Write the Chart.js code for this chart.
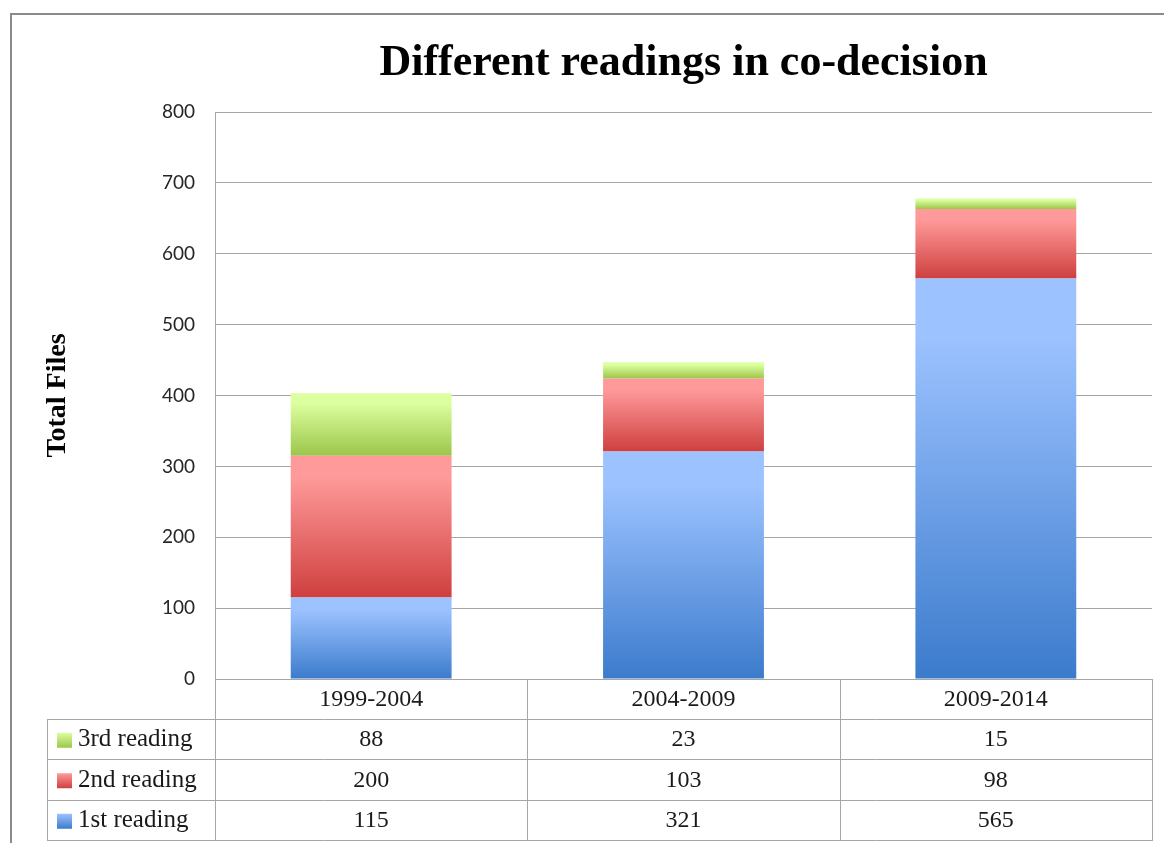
<!DOCTYPE html>
<html>
<head>
<meta charset="utf-8">
<title>Different readings in co-decision</title>
<script src="https://cdn.jsdelivr.net/npm/chart.js@4/dist/chart.umd.min.js"></script>
<style>
    html, body { margin: 0; padding: 0; background: #ffffff; }
    #box { width: 1164px; height: 843px; position: relative; }
</style>
</head>
<body>
<div id="box"><canvas id="graficoLeituras"></canvas></div>
<script>
// data
const periods = ['1999-2004', '2004-2009', '2009-2014'];
const firstReading = [115, 321, 565];
const secondReading = [200, 103, 98];
const thirdReading = [88, 23, 15];
const seriesNames = ['1st reading', '2nd reading', '3rd reading'];
const yTicks = [0, 100, 200, 300, 400, 500, 600, 700, 800];

// light top / dark bottom of each gradient
const shades = [
    ['#9cc2ff', '#3b7bcc'],
    ['#ff9a9a', '#cf3f3f'],
    ['#dcff9f', '#9cc64a']
];
const gridGrey = '#a6a6a6';
const serif = "'Liberation Serif', 'DejaVu Serif', serif";

// gradient per stacked segment, from its top to its base
function segmentFill(context) {
    const chart = context.chart;
    const s = context.datasetIndex;
    if (!chart.chartArea || context.type !== 'data') return shades[s][0];
    const y = chart.scales.y;
    const i = context.dataIndex;
    let base = 0;
    for (let k = 0; k < s; k++) base += chart.data.datasets[k].data[i];
    const top = base + chart.data.datasets[s].data[i];
    const g = chart.ctx.createLinearGradient(0, y.getPixelForValue(top), 0, y.getPixelForValue(base));
    g.addColorStop(0, shades[s][0]);
    g.addColorStop(0.15, shades[s][0]);
    g.addColorStop(1, shades[s][1]);
    return g;
}

// outer frame + data table under the plot
const tablePlugin = {
    id: 'tablePlugin',
    beforeDraw(chart) {
        const c = chart.ctx;
        c.save();
        c.fillStyle = '#ffffff';
        c.fillRect(0, 0, chart.width, chart.height);
        c.strokeStyle = '#8a8a8a';
        c.lineWidth = 2;
        c.beginPath();
        c.moveTo(11, chart.height);
        c.lineTo(11, 14);
        c.lineTo(chart.width, 14);
        c.stroke();
        c.restore();
    },
    afterDraw(chart) {
        const c = chart.ctx;
        const area = chart.chartArea;
        const xs = chart.scales.x;
        const step = xs.getPixelForValue(1) - xs.getPixelForValue(0);
        const rowH = 40.5;
        const legendLeft = 47;
        const top = area.bottom;
        const bottom = top + rowH * 4;

        c.save();
        c.strokeStyle = gridGrey;
        c.lineWidth = 1;
        c.beginPath();
        // vertical lines
        for (let i = 0; i <= periods.length; i++) {
            const x = Math.round(area.left + i * step) + 0.5;
            c.moveTo(x, top);
            c.lineTo(x, bottom);
        }
        c.moveTo(legendLeft + 0.5, top + rowH);
        c.lineTo(legendLeft + 0.5, bottom);
        // horizontal lines
        for (let r = 1; r <= 4; r++) {
            const y = Math.round(top + r * rowH) - 0.5;
            c.moveTo(legendLeft, y);
            c.lineTo(area.right + 1, y);
        }
        c.stroke();

        c.fillStyle = '#1a1a1a';
        c.font = '24px ' + serif;
        c.textAlign = 'center';
        c.textBaseline = 'middle';
        periods.forEach((p, i) => {
            c.fillText(p, xs.getPixelForValue(i), top + rowH / 2);
        });

        // rows: 3rd, 2nd, 1st reading
        const ds = chart.data.datasets;
        for (let r = 0; r < 3; r++) {
            const s = 2 - r;
            const yc = top + rowH * (r + 1.5);
            c.font = '24px ' + serif;
            ds[s].data.forEach((v, i) => {
                c.textAlign = 'center';
                c.fillText(String(v), xs.getPixelForValue(i), yc);
            });
            const g = c.createLinearGradient(0, yc - 7, 0, yc + 8);
            g.addColorStop(0, shades[s][0]);
            g.addColorStop(1, shades[s][1]);
            c.fillStyle = g;
            c.fillRect(57, yc - 7, 15, 15);
            c.fillStyle = '#1a1a1a';
            c.textAlign = 'left';
            c.font = '25px ' + serif;
            c.fillText(ds[s].label, 78, yc);
        }
        c.restore();
    }
};

document.addEventListener("DOMContentLoaded", () => {
    const ctx = document.getElementById('graficoLeituras').getContext('2d');

    new Chart(ctx, {
        type: 'bar',
        data: {
            labels: periods,
            datasets: [
                { label: seriesNames[0], data: firstReading, backgroundColor: segmentFill },
                { label: seriesNames[1], data: secondReading, backgroundColor: segmentFill },
                { label: seriesNames[2], data: thirdReading, backgroundColor: segmentFill }
            ]
        },
        options: {
            responsive: true,
            maintainAspectRatio: false,
            animation: false,
            datasets: {
                bar: {
                    categoryPercentage: 1,
                    barPercentage: 0.515,
                    borderWidth: 0
                }
            },
            layout: {
                padding: { left: 0, right: 12, top: 0, bottom: 164 }
            },
            plugins: {
                legend: { display: false },
                tooltip: { enabled: false },
                title: {
                    display: true,
                    text: 'Different readings in co-decision',
                    fullSize: false,
                    color: '#000000',
                    font: { family: serif, size: 44, weight: 'bold' },
                    padding: { top: 37, bottom: 22.2 }
                }
            },
            scales: {
                x: {
                    display: false,
                    stacked: true
                },
                y: {
                    stacked: true,
                    min: 0,
                    max: 800,
                    afterFit: (scale) => { scale.width = 215; },
                    afterBuildTicks: (scale) => {
                        scale.ticks = yTicks.map(v => ({ value: v }));
                    },
                    grid: {
                        color: gridGrey,
                        drawTicks: false
                    },
                    border: { color: gridGrey },
                    ticks: {
                        padding: 20,
                        color: '#262626',
                        font: { family: 'Lato', size: 19 }
                    },
                    title: {
                        display: true,
                        text: 'Total Files',
                        color: '#000000',
                        font: { family: serif, size: 28, weight: 'bold' },
                        padding: { top: 41, bottom: 0 }
                    }
                }
            }
        },
        plugins: [tablePlugin]
    });
});
</script>
</body>
</html>
